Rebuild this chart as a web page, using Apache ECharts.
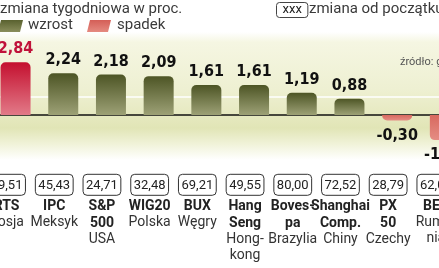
<!DOCTYPE html>
<html>
<head>
<meta charset="utf-8">
<script src="https://cdn.jsdelivr.net/npm/echarts@6/dist/echarts.min.js"></script>
<style>
html,body{margin:0;padding:0;background:#fff;}
#c{width:439px;height:268px;}
</style>
</head>
<body>
<div id="c"></div>
<script>
// ---- data ----
const indexNames = ['RTS', 'IPC', 'S&P\n500', 'WIG20', 'BUX', 'Hang\nSeng', 'Boves-\npa', 'Shanghai\nComp.', 'PX\n50', 'BET'];
const countries = ['Rosja', 'Meksyk', 'USA', 'Polska', 'Węgry', 'Hong-\nkong', 'Brazylia', 'Chiny', 'Czechy', 'Rumu-\nnia'];
const ytdChange = ['39,51', '45,43', '24,71', '32,48', '69,21', '49,55', '80,00', '72,52', '28,79', '62,04'];
const weeklyChange = [2.84, 2.24, 2.18, 2.09, 1.61, 1.61, 1.19, 0.88, -0.30, -1.35];
const highlightIndex = 0;

const titleText = 'zmiana tygodniowa w proc.';
const legendUp = 'wzrost';
const legendDown = 'spadek';
const ytdLegend = 'zmiana od początku roku';
const sourceText = 'źródło: gpw';

// ---- styling ----
const grad = (a, b) => new echarts.graphic.LinearGradient(0, 0, 0, 1, [{offset: 0, color: a}, {offset: 1, color: b}]);
const greenFill = () => grad('#4d5525', '#9da176');
const redFill = () => grad('#c4102f', '#e27a88');
const salmonFill = () => grad('#d8695f', '#e58d84');

const cats = indexNames.map((n, i) => {
  const nameLines = n.split('\n').map(s => '{name|' + s + '}').join('\n');
  const cLines = countries[i].split('\n').map(s => '{country|' + s + '}').join('\n');
  return '{box|' + ytdChange[i] + '}\n' + nameLines + '\n' + cLines;
});

const barData = weeklyChange.map((v, i) => {
  const neg = v < 0;
  return {
    value: v,
    itemStyle: {
      color: i === highlightIndex ? redFill() : (neg ? salmonFill() : greenFill()),
      borderRadius: neg ? [0, 0, 5, 5] : [5, 5, 0, 0]
    },
    label: {
      position: neg ? 'bottom' : 'top',
      distance: neg ? 7 : 5,
      color: i === highlightIndex ? '#c0123a' : '#111'
    }
  };
});

const chart = echarts.init(document.getElementById('c'), null, {renderer: 'canvas'});
const unit = 18.6;
const baseY = 115;
const yMax = 4, yMin = -3;

chart.setOption({
  animation: false,
  backgroundColor: '#ffffff',
  graphic: [
    {
      type: 'rect', z: -10, silent: true,
      shape: {x: 0, y: 32, width: 439, height: 128},
      style: {
        fill: new echarts.graphic.LinearGradient(0, 0, 0, 1, [
          {offset: 0, color: '#ffffff'},
          {offset: 0.08, color: '#f5f6e2'},
          {offset: 0.45, color: '#eef0d2'},
          {offset: 0.65, color: '#e6e9c0'},
          {offset: 0.75, color: '#e1e5b6'},
          {offset: 0.88, color: '#f1f3da'},
          {offset: 1, color: '#ffffff'}
        ])
      }
    },
    {
      type: 'text', left: 0, top: 2,
      style: {text: titleText, font: '15px Roboto', fill: '#3a3a3a'}
    },
    {
      type: 'polygon', silent: true,
      shape: {points: [[1, 20], [23, 20], [20, 32], [-2, 32]]},
      style: {fill: grad('#59612f', '#8a8e5c')}
    },
    {
      type: 'text', left: 28, top: 18,
      style: {text: legendUp, font: '15px Roboto', fill: '#3a3a3a'}
    },
    {
      type: 'polygon', silent: true,
      shape: {points: [[90, 20], [111, 20], [108, 32], [87, 32]]},
      style: {fill: grad('#d45e57', '#e58a80')}
    },
    {
      type: 'text', left: 117, top: 18,
      style: {text: legendDown, font: '15px Roboto', fill: '#3a3a3a'}
    },
    {
      type: 'text', left: 276, top: 2,
      style: {
        text: 'xxx', font: '13px Roboto', fill: '#222',
        padding: [1, 6, 1, 6], borderColor: '#444', borderWidth: 1, borderRadius: 3
      }
    },
    {
      type: 'text', left: 309, top: 2,
      style: {text: ytdLegend, font: '15px Roboto', fill: '#3a3a3a'}
    },
    {
      type: 'text', left: 400, top: 57,
      style: {text: sourceText, font: '11px Roboto', fill: '#555'}
    }
  ],
  grid: {
    left: -8.3,
    width: 477,
    top: baseY - yMax * unit,
    height: (yMax - yMin) * unit,
    containLabel: false,
    outerBoundsMode: 'none'
  },
  xAxis: {
    type: 'category',
    data: cats,
    axisLine: {show: false},
    axisTick: {show: false},
    axisLabel: {
      interval: 0,
      margin: 1,
      padding: [0, 18, 0, 0],
      align: 'center',
      verticalAlign: 'top',
      hideOverlap: false,
      rich: {
        box: {
          fontFamily: 'Roboto', fontSize: 13, color: '#222',
          borderColor: '#333', borderWidth: 1, borderRadius: 4,
          padding: [2, 3, 1, 3], lineHeight: 26, height: 18
        },
        name: {fontFamily: 'Roboto', fontWeight: 'bold', fontSize: 14, color: '#222', lineHeight: 17},
        country: {fontFamily: 'Roboto', fontSize: 14, color: '#333', lineHeight: 16}
      }
    }
  },
  yAxis: {
    type: 'value',
    min: yMin, max: yMax, interval: 1,
    show: false,
    splitLine: {show: false}
  },
  series: [{
    type: 'bar',
    barWidth: 30,
    data: barData,
    label: {
      show: true,
      fontFamily: 'DejaVu Sans Condensed',
      fontWeight: 'bold',
      fontSize: 16,
      formatter: p => p.value.toFixed(2).replace('.', ',')
    },
    markLine: {
      silent: true,
      symbol: 'none',
      label: {show: false},
      z: 1,
      data: [
        {yAxis: 1, lineStyle: {color: '#ffffff', width: 1.5, type: 'solid'}},
        {yAxis: 0, lineStyle: {color: '#111111', width: 1.5, type: 'solid'}}
      ]
    }
  }]
});
</script>
</body>
</html>
